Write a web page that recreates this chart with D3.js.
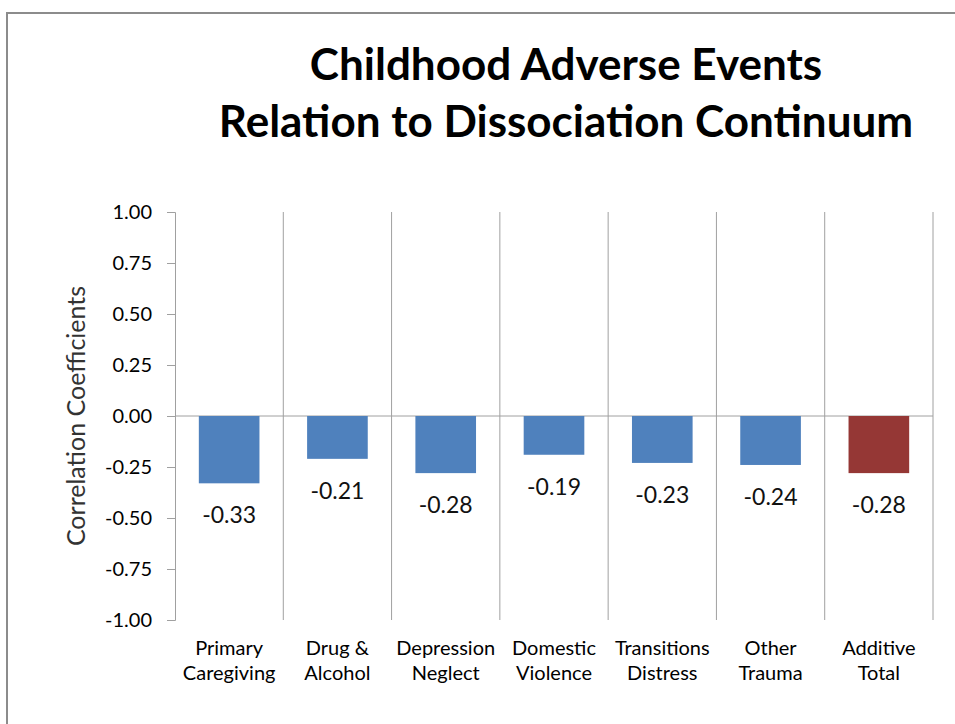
<!DOCTYPE html>
<html lang="en">
<head>
    <meta charset="UTF-8">
    <title>Childhood Adverse Events</title>
    <style>
        body { margin: 0; background: #ffffff; }
        svg { display: block; font-family: 'Lato', 'Open Sans', sans-serif; }
    </style>
</head>
<body>
    <div id="chart"></div>
    <script src="https://d3js.org/d3.v7.min.js"></script>
    <script>
        // chart data
        const categories = [
            ['Primary', 'Caregiving'],
            ['Drug &', 'Alcohol'],
            ['Depression', 'Neglect'],
            ['Domestic', 'Violence'],
            ['Transitions', 'Distress'],
            ['Other', 'Trauma'],
            ['Additive', 'Total']
        ];
        const values = [-0.33, -0.21, -0.28, -0.19, -0.23, -0.24, -0.28];
        const barColors = ['#4F81BD', '#4F81BD', '#4F81BD', '#4F81BD', '#4F81BD', '#4F81BD', '#953735'];
        const yTicks = [1, 0.75, 0.5, 0.25, 0, -0.25, -0.5, -0.75, -1];
        const titleLines = ['Childhood Adverse Events', 'Relation to Dissociation Continuum'];

        const width = 955, height = 724;
        const plotLeft = 175, plotRight = 933, plotTop = 212, plotBottom = 620;

        const svg = d3.select('#chart').append('svg')
            .attr('width', width)
            .attr('height', height);

        // outer frame
        svg.append('rect')
            .attr('x', 7).attr('y', 13)
            .attr('width', 970).attr('height', 740)
            .attr('fill', 'none')
            .attr('stroke', '#8c8c8c')
            .attr('stroke-width', 2);

        // title
        svg.append('g').selectAll('text')
            .data(titleLines)
            .enter().append('text')
            .attr('x', 566)
            .attr('y', (d, i) => 80 + i * 57)
            .attr('text-anchor', 'middle')
            .attr('font-size', '44px')
            .attr('font-weight', 'bold')
            .attr('fill', '#000')
            .text(d => d);

        const x = d3.scaleBand()
            .domain(d3.range(categories.length))
            .range([plotLeft, plotRight])
            .paddingInner(0.44)
            .paddingOuter(0.22);

        const y = d3.scaleLinear()
            .domain([-1, 1])
            .range([plotBottom, plotTop]);

        // category separators
        svg.append('g').selectAll('line')
            .data(d3.range(1, categories.length + 1))
            .enter().append('line')
            .attr('x1', i => plotLeft + (plotRight - plotLeft) * i / categories.length)
            .attr('x2', i => plotLeft + (plotRight - plotLeft) * i / categories.length)
            .attr('y1', plotTop)
            .attr('y2', plotBottom)
            .attr('stroke', '#a0a0a0')
            .attr('stroke-width', 1);

        // y axis
        const yAxis = svg.append('g')
            .attr('transform', `translate(${plotLeft},0)`)
            .call(d3.axisLeft(y).tickValues(yTicks).tickSize(8).tickPadding(15));
        yAxis.select('.domain').attr('stroke', '#a0a0a0');
        yAxis.selectAll('.tick line').attr('stroke', '#a0a0a0');
        yAxis.selectAll('.tick text')
            .attr('font-size', '20px')
            .attr('font-family', "'Lato', 'Open Sans', sans-serif")
            .attr('fill', '#000')
            .text(d => d.toFixed(2));

        // zero line
        svg.append('line')
            .attr('x1', plotLeft).attr('x2', plotRight)
            .attr('y1', y(0)).attr('y2', y(0))
            .attr('stroke', '#a0a0a0')
            .attr('stroke-width', 1);

        // bars
        svg.append('g').selectAll('rect')
            .data(values)
            .enter().append('rect')
            .attr('x', (d, i) => x(i))
            .attr('width', x.bandwidth())
            .attr('y', d => y(Math.max(0, d)))
            .attr('height', d => Math.abs(y(d) - y(0)))
            .attr('fill', (d, i) => barColors[i]);

        // value labels
        svg.append('g').selectAll('text')
            .data(values)
            .enter().append('text')
            .attr('x', (d, i) => x(i) + x.bandwidth() / 2)
            .attr('y', d => y(d) + 40)
            .attr('text-anchor', 'middle')
            .attr('font-size', '23px')
            .attr('fill', '#111')
            .text(d => d.toFixed(2));

        // category labels
        const catG = svg.append('g').selectAll('text')
            .data(categories)
            .enter().append('text')
            .attr('x', (d, i) => x(i) + x.bandwidth() / 2)
            .attr('y', 655)
            .attr('text-anchor', 'middle')
            .attr('font-size', '20px')
            .attr('fill', '#000');
        catG.selectAll('tspan')
            .data(d => d)
            .enter().append('tspan')
            .attr('x', function() { return this.parentNode.getAttribute('x'); })
            .attr('dy', (d, i) => i === 0 ? 0 : 25)
            .text(d => d);

        // y axis title
        svg.append('text')
            .attr('transform', `translate(85,${y(0)}) rotate(-90)`)
            .attr('text-anchor', 'middle')
            .attr('font-size', '25px')
            .attr('fill', '#333')
            .text('Correlation Coefficients');
    </script>
</body>
</html>
